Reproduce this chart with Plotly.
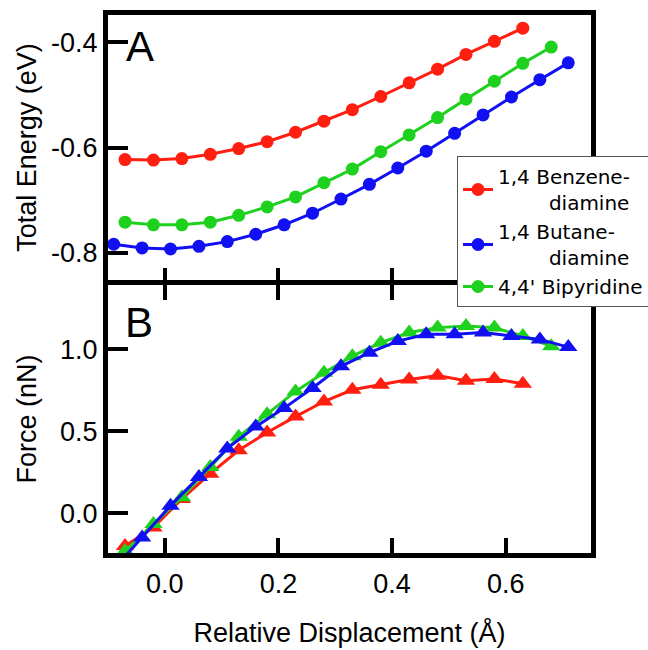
import plotly.graph_objects as go

# ---------------- data ----------------
# Panel A: total energy (eV) vs relative displacement (Å)
x_benz = [-0.07, -0.02, 0.03, 0.08, 0.13, 0.18, 0.23, 0.28, 0.33, 0.38, 0.43, 0.48, 0.53, 0.58, 0.63]
e_benz = [-0.623, -0.624, -0.621, -0.613, -0.602, -0.589, -0.571, -0.550, -0.528, -0.503,
          -0.477, -0.451, -0.423, -0.398, -0.373]

x_buta = [-0.09, -0.04, 0.01, 0.06, 0.11, 0.16, 0.21, 0.26, 0.31, 0.36, 0.41, 0.46, 0.51,
          0.56, 0.61, 0.66, 0.71]
e_buta = [-0.784, -0.791, -0.793, -0.788, -0.779, -0.765, -0.747, -0.725, -0.698, -0.670,
          -0.639, -0.607, -0.573, -0.538, -0.504, -0.471, -0.439]

x_bipy = [-0.07, -0.02, 0.03, 0.08, 0.13, 0.18, 0.23, 0.28, 0.33, 0.38, 0.43, 0.48, 0.53,
          0.58, 0.63, 0.68]
e_bipy = [-0.742, -0.747, -0.747, -0.742, -0.729, -0.713, -0.694, -0.667, -0.641, -0.608,
          -0.576, -0.543, -0.508, -0.474, -0.440, -0.409]

# Panel B: force (nN)
f_benz = [-0.199, -0.086, 0.088, 0.242, 0.385, 0.493, 0.590, 0.682, 0.754, 0.785,
          0.816, 0.840, 0.809, 0.820, 0.791]
f_buta = [-0.340, -0.147, 0.047, 0.221, 0.396, 0.529, 0.642, 0.765, 0.897, 0.980,
          1.051, 1.092, 1.092, 1.103, 1.082, 1.061, 1.014]
f_bipy = [-0.230, -0.065, 0.098, 0.283, 0.467, 0.605, 0.744, 0.857, 0.959, 1.041,
          1.103, 1.133, 1.143, 1.133, 1.082, 1.020]

NB = "\u00a0"
names = ["1,4 Benzene-<br>" + NB * 8 + "diamine",
         "1,4 Butane-<br>" + NB * 8 + "diamine",
         "4,4' Bipyridine"]

x_ticks = [0.0, 0.2, 0.4, 0.6]
x_ticktext = ["0.0", "0.2", "0.4", "0.6"]
e_ticks = [-0.8, -0.6, -0.4]
e_ticktext = ["-0.8", "-0.6", "-0.4"]
f_ticks = [0.0, 0.5, 1.0]
f_ticktext = ["0.0", "0.5", "1.0"]

RED = "#FF1E0F"
BLUE = "#1010F2"
GREEN = "#1FD11F"

FONT = "Liberation Sans, Arial, sans-serif"
LEGFONT = "DejaVu Sans, Verdana, sans-serif"

fig = go.Figure()

# top panel (legend entries)
for x, y, c, n in [(x_benz, e_benz, RED, names[0]),
                   (x_buta, e_buta, BLUE, names[1]),
                   (x_bipy, e_bipy, GREEN, names[2])]:
    fig.add_trace(go.Scatter(x=x, y=y, mode="lines+markers", name=n,
                             line=dict(color=c, width=3),
                             marker=dict(symbol="circle", size=13, color=c),
                             xaxis="x", yaxis="y", showlegend=True))

# bottom panel
for x, y, c in [(x_benz, f_benz, RED), (x_bipy, f_bipy, GREEN), (x_buta, f_buta, BLUE)]:
    fig.add_trace(go.Scatter(x=x, y=y, mode="lines+markers",
                             line=dict(color=c, width=3),
                             marker=dict(symbol="triangle-up", size=16, color=c),
                             xaxis="x2", yaxis="y2", showlegend=False))

axis_common = dict(showgrid=False, zeroline=False, showline=True, linecolor="black",
                   linewidth=5, ticks="inside", tickwidth=4, tickcolor="black",
                   automargin=False,
                   tickfont=dict(family=FONT, size=27, color="black"))

H = 650 - 15 - 97          # plot area height in px
bot_top = 268 / H          # bottom panel top
top_bot = bot_top + 5 / H  # top panel bottom (small gap so the lines coincide)

fig.update_layout(
    width=648, height=650,
    margin=dict(l=108, r=57, t=15, b=97, autoexpand=False),
    paper_bgcolor="white", plot_bgcolor="white",
    font=dict(family=FONT, color="black"),
    xaxis=dict(axis_common, domain=[0, 1], anchor="y", range=[-0.1, 0.75],
               tickvals=x_ticks, ticktext=x_ticktext, showticklabels=False,
               ticklen=12, mirror=True),
    yaxis=dict(axis_common, domain=[top_bot, 1], anchor="x", range=[-0.852, -0.348],
               tickvals=e_ticks, ticktext=e_ticktext, ticklen=20, mirror=True,
               title=dict(text="Total Energy (eV)", standoff=8,
                          font=dict(family=FONT, size=27, color="black"))),
    xaxis2=dict(axis_common, domain=[0, 1], anchor="y2", range=[-0.1, 0.75],
                tickvals=x_ticks, ticktext=x_ticktext, ticklen=15, mirror="ticks",
                ticklabelstandoff=3,
                title=dict(text="Relative Displacement (Å)", standoff=26,
                           font=dict(family=FONT, size=27, color="black"))),
    yaxis2=dict(axis_common, domain=[0, bot_top], anchor="x2", range=[-0.242, 1.393],
                tickvals=f_ticks, ticktext=f_ticktext, ticklen=20, mirror=True,
                title=dict(text="Force (nN)", standoff=17,
                           font=dict(family=FONT, size=27, color="black"))),
    legend=dict(x=0.7226, y=1 - (156 - 15) / H, xanchor="left", yanchor="top",
                bgcolor="white", bordercolor="#555555", borderwidth=1,
                font=dict(family=LEGFONT, size=20, color="black"),
                tracegroupgap=0),
    annotations=[
        dict(text="A", x=32 / 483, y=1 - (46 - 15) / H, xref="paper", yref="paper",
             xanchor="center", yanchor="middle", showarrow=False,
             font=dict(family=FONT, size=42, color="black")),
        dict(text="B", x=31 / 483, y=1 - (322 - 15) / H, xref="paper", yref="paper",
             xanchor="center", yanchor="middle", showarrow=False,
             font=dict(family=FONT, size=42, color="black")),
    ],
)

fig.write_html("out.html")
